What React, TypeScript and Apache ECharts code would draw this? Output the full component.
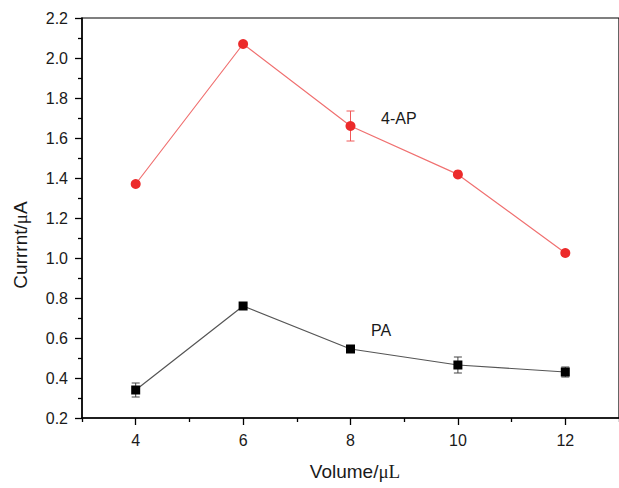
import React, { useEffect, useRef } from "react";
import * as echarts from "echarts";

const volumes = [4, 6, 8, 10, 12];
const ap4 = [1.37, 2.07, 1.66, 1.418, 1.025];
const ap4Err = [0.01, 0.01, 0.075, 0.01, 0.01];
const pa = [0.34, 0.76, 0.545, 0.465, 0.43];
const paErr = [0.035, 0.012, 0.012, 0.04, 0.025];
const xMajor = [4, 6, 8, 10, 12];
const xMinor = [3, 5, 7, 9, 11, 13];

const SANS = "'Liberation Sans', Arial, sans-serif";
const SERIF = "'Liberation Serif', 'Times New Roman', serif";

function errData(vals: number[], errs: number[]) {
  return volumes.map((x, i) => [x, vals[i] - errs[i], vals[i] + errs[i]]);
}

function errRender(color: string) {
  return (params: any, api: any) => {
    const x = api.value(0);
    const lo = api.coord([x, api.value(1)]);
    const hi = api.coord([x, api.value(2)]);
    const w = 4;
    const style = { stroke: color, lineWidth: 1 };
    return {
      type: "group",
      children: [
        { type: "line", shape: { x1: lo[0], y1: lo[1], x2: hi[0], y2: hi[1] }, style },
        { type: "line", shape: { x1: lo[0] - w, y1: lo[1], x2: lo[0] + w, y2: lo[1] }, style },
        { type: "line", shape: { x1: hi[0] - w, y1: hi[1], x2: hi[0] + w, y2: hi[1] }, style },
      ],
    };
  };
}

export default function App() {
  const ref = useRef<HTMLDivElement>(null);
  useEffect(() => {
    const chart = echarts.init(ref.current!, null, { renderer: "svg" });
    chart.setOption({
      animation: false,
      backgroundColor: "#fff",
      grid: {
        left: 82,
        top: 18,
        right: -9,
        bottom: 70,
        show: true,
        borderColor: "#000",
        borderWidth: 1.2,
      },
      xAxis: [
        {
          type: "value",
          min: 3,
          max: 13,
          interval: 1,
          splitLine: { show: false },
          axisLine: { lineStyle: { color: "#000", width: 1.5 } },
          axisTick: { customValues: xMajor, length: 7, lineStyle: { color: "#000", width: 1.3 } },
          axisLabel: {
            customValues: xMajor,
            color: "#1a1a1a",
            fontSize: 16,
            fontFamily: SANS,
            margin: 14,
          },
        },
        {
          type: "value",
          min: 3,
          max: 13,
          interval: 1,
          position: "bottom",
          splitLine: { show: false },
          axisLine: { show: false },
          axisTick: { customValues: xMinor, length: 4, lineStyle: { color: "#000", width: 1.3 } },
          axisLabel: { show: false },
        },
      ],
      yAxis: {
        type: "value",
        min: 0.2,
        max: 2.2,
        interval: 0.2,
        splitLine: { show: false },
        axisLine: { show: true, lineStyle: { color: "#000", width: 1.5 } },
        axisTick: { show: true, length: 7, lineStyle: { color: "#000", width: 1.3 } },
        minorTick: { show: true, splitNumber: 2, length: 4, lineStyle: { color: "#000", width: 1.3 } },
        axisLabel: {
          color: "#1a1a1a",
          fontSize: 16,
          fontFamily: SANS,
          margin: 14,
          formatter: (v: number) => v.toFixed(1),
        },
      },
      graphic: [
        {
          type: "text",
          x: 20,
          y: 245,
          rotation: Math.PI / 2,
          style: {
            text: "{a|Currrnt/}{m|μ}{a|A}",
            align: "center",
            verticalAlign: "middle",
            rich: {
              a: { fontFamily: SANS, fontSize: 19, fill: "#1a1a1a" },
              m: { fontFamily: SERIF, fontSize: 19, fill: "#1a1a1a" },
            },
          },
        },
        {
          type: "text",
          x: 355,
          y: 471,
          style: {
            text: "{a|Volume/}{m|μL}",
            align: "center",
            verticalAlign: "middle",
            rich: {
              a: { fontFamily: SANS, fontSize: 19, fill: "#1a1a1a" },
              m: { fontFamily: SERIF, fontSize: 19, fill: "#1a1a1a" },
            },
          },
        },
        {
          type: "text",
          x: 381,
          y: 118,
          style: { text: "4-AP", fontFamily: SANS, fontSize: 16, fill: "#1a1a1a", verticalAlign: "middle" },
        },
        {
          type: "text",
          x: 371,
          y: 330,
          style: { text: "PA", fontFamily: SANS, fontSize: 16, fill: "#1a1a1a", verticalAlign: "middle" },
        },
      ],
      series: [
        {
          type: "custom",
          renderItem: errRender("#f05a5a"),
          data: errData(ap4, ap4Err),
          z: 1,
        },
        {
          type: "custom",
          renderItem: errRender("#444"),
          data: errData(pa, paErr),
          z: 1,
        },
        {
          type: "line",
          name: "4-AP",
          data: volumes.map((x, i) => [x, ap4[i]]),
          symbol: "circle",
          symbolSize: 10,
          lineStyle: { color: "#f07070", width: 1.2 },
          itemStyle: { color: "#ec2a2a" },
          z: 3,
        },
        {
          type: "line",
          name: "PA",
          data: volumes.map((x, i) => [x, pa[i]]),
          symbol: "rect",
          symbolSize: 9,
          lineStyle: { color: "#555", width: 1.2 },
          itemStyle: { color: "#000" },
          z: 3,
        },
      ],
    });
    return () => chart.dispose();
  }, []);
  return (
    <div
      ref={ref}
      style={{ position: "fixed", left: 0, top: 0, width: 619, height: 488 }}
    />
  );
}
